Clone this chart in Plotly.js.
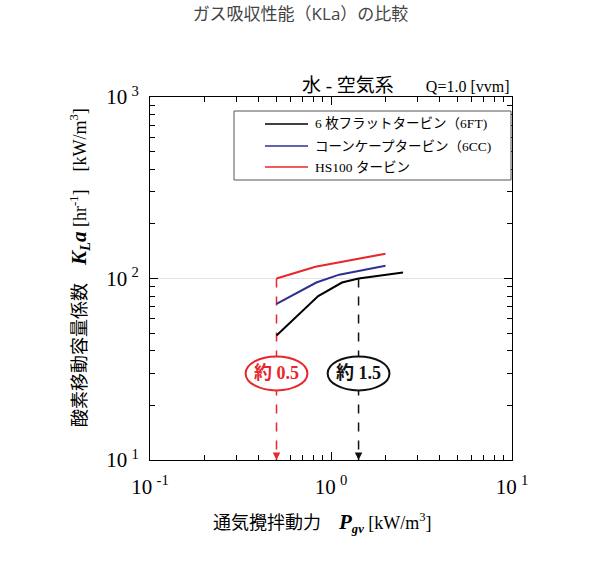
<!DOCTYPE html>
<html>
<head>
<meta charset="utf-8">
<script src="https://cdn.plot.ly/plotly-3.0.1.min.js"></script>
<style>
  body { margin: 0; background: #fff; }
  #chart { width: 601px; height: 562px; }
</style>
</head>
<body>
<div id="chart"></div>
<script>

// series
const seriesNames = ['6 枚フラットタービン（6FT)', 'コーンケープタービン（6CC)', 'HS100 タービン'];
const seriesColors = ['#000000', '#2e3192', '#e8262b'];

const ftX = [0.5, 0.85, 1.15, 1.42, 2.5];
const ftY = [48.5, 80, 95, 100, 108];
const ccX = [0.5, 0.83, 1.11, 2.0];
const ccY = [72.5, 95, 105, 117.5];
const hsX = [0.5, 0.82, 2.0];
const hsY = [100, 116, 137];

// dashed guide lines and their labels
const guideX = [0.5, 1.42];
const guideTop = [100, 100];
const guideBottom = [10, 10];
const guideColors = ['#e8262b', '#111111'];
const guideLabels = ['約 0.5', '約 1.5'];
const guideLabelY = [30, 30];

const xTickVals = [0.1, 1, 10];
const xTickText = ['10\u2009<sup>-1</sup>', '10\u2009<sup>0</sup>', '10\u2009<sup>1</sup>'];
const yTickVals = [10, 100, 1000];
const yTickText = ['10\u2009<sup>1</sup>', '10\u2009<sup>2</sup>', '10\u2009<sup>3</sup>'];

const SERIF = '"Liberation Serif", "Noto Sans CJK JP", serif';

// plot area in pixels: x 150..512, y 97..460 (181 px per decade)
function px(p) { return (p - 150) / 362; }
function py(p) { return (460 - p) / 363; }
const PX_PER_DECADE = 181.5;

function minorTicks(lo, hi) {
	var out = [];
	for (var d = lo; d < hi; d *= 10)
		for (var k = 2; k < 10; k++) out.push(d * k);
	return out;
}

var traces = [];

for (var i = 0; i < guideX.length; i++) {
	traces.push({
		x: [guideX[i], guideX[i]],
		y: [guideTop[i], guideBottom[i]],
		mode: 'lines',
		line: {color: guideColors[i], width: 1.5, dash: 'dash'},
		showlegend: false,
		hoverinfo: 'skip'
	});
}

var seriesX = [ftX, ccX, hsX];
var seriesY = [ftY, ccY, hsY];
for (var i = 0; i < seriesX.length; i++) {
	traces.push({
		x: seriesX[i],
		y: seriesY[i],
		mode: 'lines',
		name: seriesNames[i],
		line: {color: seriesColors[i], width: 2},
		showlegend: false
	});
}

var shapes = [];
var annotations = [];

// ellipses with labels over the guide lines (half sizes 31 x 17 px)
var fx = Math.pow(10, 31 / PX_PER_DECADE);
var fy = Math.pow(10, 17 / PX_PER_DECADE);
for (var i = 0; i < guideX.length; i++) {
	shapes.push({
		type: 'circle', xref: 'x', yref: 'y',
		x0: guideX[i] / fx, x1: guideX[i] * fx,
		y0: guideLabelY[i] / fy, y1: guideLabelY[i] * fy,
		line: {color: guideColors[i], width: 2},
		fillcolor: '#ffffff',
		layer: 'above'
	});
	annotations.push({
		x: Math.log10(guideX[i]), y: Math.log10(guideLabelY[i]),
		xref: 'x', yref: 'y',
		text: '<b>' + guideLabels[i] + '</b>',
		showarrow: false,
		font: {family: SERIF, size: 18, color: guideColors[i]}
	});
	annotations.push({
		x: Math.log10(guideX[i]), y: Math.log10(guideBottom[i]),
		xref: 'x', yref: 'y',
		ax: 0, ay: -7, text: '',
		showarrow: true, arrowhead: 2, arrowsize: 1, arrowwidth: 1.5,
		arrowcolor: guideColors[i]
	});
}

// legend box drawn by hand
shapes.push({
	type: 'rect', xref: 'paper', yref: 'paper',
	x0: px(234), x1: px(511), y0: py(180), y1: py(111),
	line: {color: '#555', width: 1}, fillcolor: '#ffffff', layer: 'above'
});
var rowY = [124, 146, 167];
for (var i = 0; i < seriesNames.length; i++) {
	shapes.push({
		type: 'line', xref: 'paper', yref: 'paper',
		x0: px(265), x1: px(308), y0: py(rowY[i]), y1: py(rowY[i]),
		line: {color: seriesColors[i], width: 1.5}, layer: 'above'
	});
	annotations.push({
		x: px(313), y: py(rowY[i]), xref: 'paper', yref: 'paper',
		xanchor: 'left', yanchor: 'middle', showarrow: false,
		text: seriesNames[i],
		font: {family: SERIF, size: 13.5, color: '#000'}
	});
}

// condition text at top right of the plot
annotations.push({
	x: 1, y: py(85), xref: 'paper', yref: 'paper',
	xanchor: 'right', yanchor: 'middle', showarrow: false,
	text: '<span style="font-size:19px">水 - 空気系</span>　　Q=1.0 [vvm]',
	font: {family: SERIF, size: 16, color: '#000'}
});

// axis titles
annotations.push({
	x: px(322), y: py(523), xref: 'paper', yref: 'paper',
	xanchor: 'center', yanchor: 'middle', showarrow: false,
	text: '通気攪拌動力　<b><i><span style="font-size:21px">P</span><sub>gv</sub></i></b> [kW/m<sup>3</sup>]',
	font: {family: SERIF, size: 18, color: '#000'}
});
annotations.push({
	x: px(80), y: py(268), xref: 'paper', yref: 'paper',
	xanchor: 'center', yanchor: 'middle', showarrow: false,
	textangle: -90,
	text: '酸素移動容量係数　<b><i><span style="font-size:21px">K<sub>L</sub>a</span></i></b> [hr<sup>-1</sup>]　[kW/m<sup>3</sup>]',
	font: {family: SERIF, size: 18, color: '#000'}
});

var axisCommon = {
	type: 'log',
	showline: true, linecolor: '#000', linewidth: 1,
	mirror: 'allticks',
	ticks: 'inside', ticklen: 8, tickcolor: '#000',
	tickmode: 'array',
	tickfont: {family: SERIF, size: 21, color: '#000'},
	zeroline: false,
	fixedrange: true
};

var layout = {
	width: 601, height: 562,
	margin: {l: 150, r: 89, t: 97, b: 102},
	paper_bgcolor: '#fff', plot_bgcolor: '#fff',
	showlegend: false,
	title: {
		text: 'ガス吸収性能（KLa）の比較',
		x: 0.5, xanchor: 'center', y: 1 - 14 / 562, yanchor: 'middle', yref: 'container',
		font: {family: '"Open Sans", "Noto Sans CJK JP", sans-serif', size: 17, color: '#444'}
	},
	xaxis: Object.assign({}, axisCommon, {
		range: [-1, 1],
		tickvals: xTickVals, ticktext: xTickText,
		ticklabelstandoff: 8,
		showgrid: false,
		minor: {tickmode: 'array', tickvals: minorTicks(0.1, 10), ticks: 'inside', ticklen: 5, tickcolor: '#000', showgrid: false}
	}),
	yaxis: Object.assign({}, axisCommon, {
		range: [1, 3],
		tickvals: yTickVals, ticktext: yTickText,
		ticklabelstandoff: 6,
		showgrid: true, gridcolor: '#e2e2e2', gridwidth: 1,
		minor: {tickmode: 'array', tickvals: minorTicks(10, 1000), ticks: 'inside', ticklen: 5, tickcolor: '#000', showgrid: false}
	}),
	shapes: shapes,
	annotations: annotations
};

Plotly.newPlot('chart', traces, layout, {displayModeBar: false, staticPlot: true});

</script>
</body>
</html>
